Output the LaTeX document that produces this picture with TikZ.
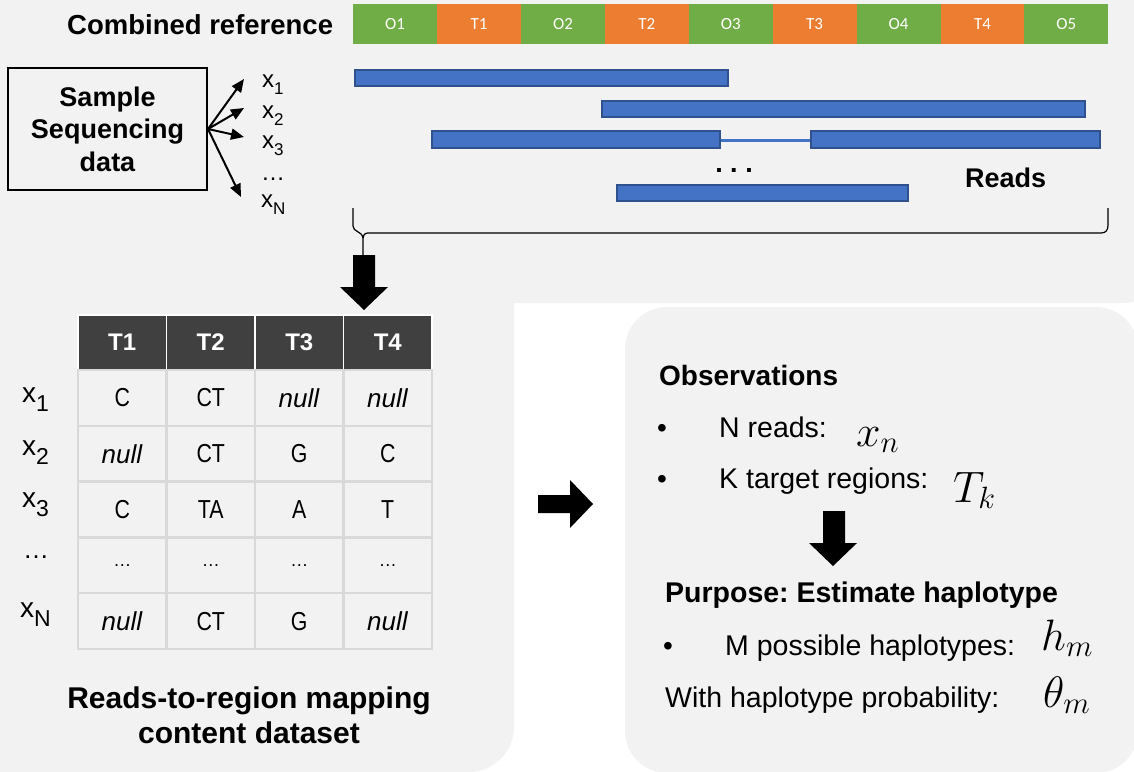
\RequirePackage{fix-cm}
\documentclass[tikz,border=0pt]{standalone}
\usepackage{fontspec}
\setmainfont{Liberation Sans}
\newfontfamily\carl{Carlito}
\usetikzlibrary{arrows.meta}
\frenchspacing
\definecolor{panelgray}{HTML}{F2F2F2}
\definecolor{ogreen}{HTML}{70AD47}
\definecolor{oorange}{HTML}{ED7D31}
\definecolor{rblue}{HTML}{4472C4}
\definecolor{rblueedge}{HTML}{2F528F}
\definecolor{hdark}{HTML}{404040}
\definecolor{cellline}{HTML}{D9D9D9}
\newcommand\fsz[1]{\fontsize{#1}{#1}\selectfont}
\newcommand\xsub[4]{{\fsz{#1}x}\raisebox{#3}{\fsz{#2}#4}}
\newcommand\capt[1]{\scalebox{0.82}[1]{#1}}
\newcommand\nul{\textit{null}}
\newcommand\celldots{\fsz{18}\textellipsis}
\begin{document}
\begin{tikzpicture}[x=1pt,y=-1pt,
  seg/.style={anchor=north west, minimum width=83.9pt, minimum height=40pt, inner sep=0pt, text=white, font=\carl\fsz{17}},
  bar/.style={fill=rblue, draw=rblueedge, line width=1.5pt},
  fan/.style={line width=2pt, -{Triangle[length=13pt,width=11pt]}},
  lab/.style={anchor=base west, inner sep=0pt},
  hcell/.style={fill=hdark, draw=white, line width=1.2pt, minimum width=88.5pt, minimum height=55pt, inner sep=0pt, text=white, font=\bfseries\fsz{24}},
  bcell/.style={fill=panelgray, draw=cellline, line width=2.5pt, minimum width=88.5pt, minimum height=55.8pt, inner sep=0pt, font=\fsz{26}},
  blockarrow/.style={fill=black, draw=none},
  bracepath/.style={line width=1.2pt},
]
\useasboundingbox (0,0) rectangle (1134,771);
\begin{scope}
\clip (0,0) rectangle (1134,771);
\fill[panelgray, rounded corners=45pt] (-60,-60) rectangle (1168,303);
\fill[panelgray, rounded corners=45pt] (-60,200) rectangle (514,772);
\fill[panelgray, rounded corners=42pt] (625,307) rectangle (1138,773);
\end{scope}

% combined reference bar
\node[lab, font=\bfseries\fsz{27.5}] (combref) at (67,34) {Combined reference};
\node[seg, fill=ogreen] (o1) at (353,4) {O1};
\node[seg, fill=oorange] (t1) at (436.9,4) {T1};
\node[seg, fill=ogreen] (o2) at (520.8,4) {O2};
\node[seg, fill=oorange] (t2) at (604.7,4) {T2};
\node[seg, fill=ogreen] (o3) at (688.6,4) {O3};
\node[seg, fill=oorange] (t3) at (772.5,4) {T3};
\node[seg, fill=ogreen] (o4) at (856.4,4) {O4};
\node[seg, fill=oorange] (t4) at (940.3,4) {T4};
\node[seg, fill=ogreen] (o5) at (1024.2,4) {O5};

% sample sequencing data
\node[draw=black, line width=2pt, minimum width=199pt, minimum height=122pt, inner sep=0pt, align=center, font=\bfseries\fontsize{27}{32.5}\selectfont] (sample) at (107.5,129) {Sample\\Sequencing\\data};
\coordinate (tip1) at (244,79);
\coordinate (tip2) at (244,108);
\coordinate (tip3) at (244,137);
\coordinate (tipN) at (241,197);
\draw[fan] (sample.east) -- (tip1);
\draw[fan] (sample.east) -- (tip2);
\draw[fan] (sample.east) -- (tip3);
\draw[fan] (sample.east) -- (tipN);
\node[lab] (lx1) at (262,87) {\xsub{24}{17}{-7pt}{1}};
\node[lab] (lx2) at (262,118) {\xsub{24}{17}{-7pt}{2}};
\node[lab] (lx3) at (262,148) {\xsub{24}{17}{-7pt}{3}};
\node[lab] (ldots) at (261,180) {\fsz{24}\textellipsis};
\node[lab] (lxN) at (261,207) {\xsub{24}{17}{-7pt}{N}};

% reads
\draw[bar] (355,70) rectangle (728,86);
\draw[bar] (602,101) rectangle (1085,117);
\draw[rblue, line width=3pt] (720,140) -- (811,140);
\draw[bar] (432,131) rectangle (720,148);
\draw[bar] (811,131) rectangle (1100,148);
\draw[bar] (617,185) rectangle (908,201);
\node[inner sep=0pt, font=\bfseries\fsz{27}] (rdots) at (734,170) {. . .};
\node[lab, font=\bfseries\fsz{27}] (reads) at (965,187) {Reads};

% brace
\draw[bracepath] (353,208) -- (353,226) .. controls (353,232) and (362,231) .. (363,238) -- (363,256);
\draw[bracepath] (363,238) .. controls (364,233) and (366,233) .. (370,233) -- (1101,233) .. controls (1106,233) and (1108,230) .. (1108,225) -- (1108,208);

% big down arrow
\fill[blockarrow] (353,255) -- (375,255) -- (375,287) -- (388,287) -- (364,310) -- (340,287) -- (353,287) -- cycle;

% table header
\node[hcell] (h1) at (122.25,342.5) {T1};
\node[hcell] (h2) at (210.75,342.5) {T2};
\node[hcell] (h3) at (299.25,342.5) {T3};
\node[hcell] (h4) at (387.75,342.5) {T4};
% table body
\node[bcell] (c11) at (122.25,397.9) {\capt{C}};
\node[bcell] (c12) at (210.75,397.9) {\capt{CT}};
\node[bcell] (c13) at (299.25,397.9) {\nul};
\node[bcell] (c14) at (387.75,397.9) {\nul};
\node[bcell] (c21) at (122.25,453.7) {\nul};
\node[bcell] (c22) at (210.75,453.7) {\capt{CT}};
\node[bcell] (c23) at (299.25,453.7) {\capt{G}};
\node[bcell] (c24) at (387.75,453.7) {\capt{C}};
\node[bcell] (c31) at (122.25,509.5) {\capt{C}};
\node[bcell] (c32) at (210.75,509.5) {\capt{TA}};
\node[bcell] (c33) at (299.25,509.5) {\capt{A}};
\node[bcell] (c34) at (387.75,509.5) {\capt{T}};
\node[bcell] (c41) at (122.25,565.3) {\celldots};
\node[bcell] (c42) at (210.75,565.3) {\celldots};
\node[bcell] (c43) at (299.25,565.3) {\celldots};
\node[bcell] (c44) at (387.75,565.3) {\celldots};
\node[bcell] (c51) at (122.25,621.1) {\nul};
\node[bcell] (c52) at (210.75,621.1) {\capt{CT}};
\node[bcell] (c53) at (299.25,621.1) {\capt{G}};
\node[bcell] (c54) at (387.75,621.1) {\nul};
% row labels
\node[lab] (r1) at (22,402) {\xsub{28}{23}{-9pt}{1}};
\node[lab] (r2) at (22,455) {\xsub{28}{23}{-9pt}{2}};
\node[lab] (r3) at (22,507) {\xsub{28}{23}{-9pt}{3}};
\node[lab] (r4) at (23,558) {\fsz{26}\textellipsis};
\node[lab] (rN) at (20,617) {\xsub{28}{23}{-9pt}{N}};

\node[anchor=base, inner sep=0pt, font=\bfseries\fsz{30}] (cap1) at (249,708) {Reads-to-region mapping};
\node[anchor=base, inner sep=0pt, font=\bfseries\fsz{30}] (cap2) at (249,743) {content dataset};

% right arrow
\fill[blockarrow] (538,495) -- (570,495) -- (570,480) -- (593,504) -- (570,528) -- (570,513) -- (538,513) -- cycle;

% right panel
\node[lab, font=\bfseries\fsz{28}] (obs) at (659,385) {Observations};
\node[lab, font=\fsz{28}] (b1) at (657,437) {\textbullet};
\node[lab, font=\fsz{28.5}] (nreads) at (719,437) {N reads:};
\node[lab, font=\fsz{44}] (xn) at (856,446) {$x_n$};
\node[lab, font=\fsz{28}] (b2) at (657,488) {\textbullet};
\node[lab, font=\fsz{28.5}] (ktr) at (719,488) {K target regions:};
\node[lab, font=\fsz{44}] (tk) at (953,502) {$T_k$};
\fill[blockarrow] (823,511) -- (845,511) -- (845,543) -- (857,543) -- (833,566) -- (809,543) -- (823,543) -- cycle;
\node[lab, font=\bfseries\fsz{28.5}] (purp) at (665,602) {Purpose: Estimate haplotype};
\node[lab, font=\fsz{28}] (b3) at (663,655) {\textbullet};
\node[lab, font=\fsz{28.5}] (mposs) at (725,655) {M possible haplotypes:};
\node[lab, font=\fsz{44}] (hm) at (1041,650) {$h_m$};
\node[lab, font=\fsz{28.5}] (with) at (665,707) {With haplotype probability:};
\node[lab, font=\fsz{44}] (th) at (1043,707) {$\theta_m$};
\end{tikzpicture}
\end{document}
